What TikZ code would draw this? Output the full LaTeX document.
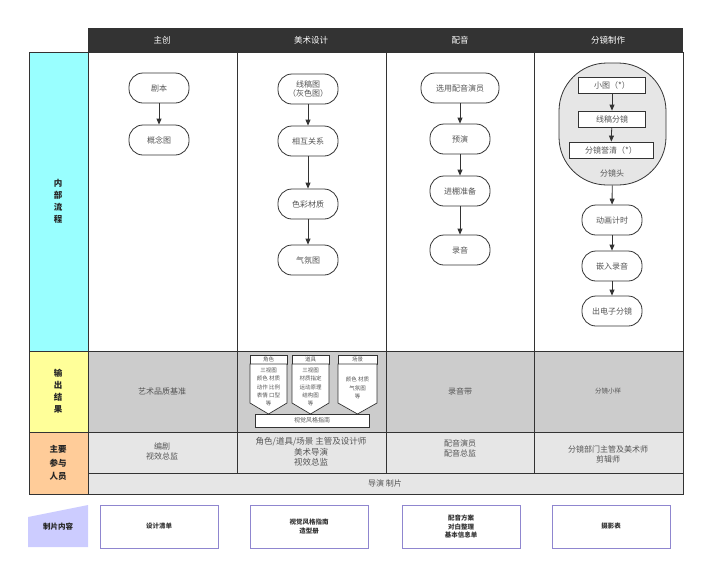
\documentclass[tikz,border=0pt]{standalone}
\usepackage{fontspec}
\setmainfont{Noto Sans CJK SC}
\usetikzlibrary{arrows.meta,shapes.geometric}
\definecolor{hdr}{HTML}{333333}
\definecolor{cyanc}{HTML}{99FFFF}
\definecolor{yelc}{HTML}{FFFF99}
\definecolor{orac}{HTML}{FFCC99}
\definecolor{grayrow}{HTML}{CCCCCC}
\definecolor{lgrow}{HTML}{E6E6E6}
\definecolor{purp}{HTML}{CCCCFF}
\definecolor{purpb}{HTML}{8F86CF}
\definecolor{txt}{HTML}{555555}
\tikzset{
  term/.style={draw=black!80, line width=0.8pt, rounded corners=14pt, minimum width=60pt, minimum height=30pt,
    font=\fontsize{8}{9.5}\selectfont, text=txt, align=center, inner sep=1pt, fill=white},
  sbox/.style={draw=black!80, line width=0.8pt, rectangle, fill=white, minimum height=16pt,
    font=\fontsize{8}{9.5}\selectfont, text=txt, inner sep=1pt},
  arr/.style={-{Triangle[length=6pt,width=5pt]}, line width=0.8pt, draw=black!80},
  grid/.style={draw=hdr, line width=0.9pt},
  lab/.style={font=\bfseries\fontsize{8.5}{12}\selectfont, text=black!85, align=center},
  cell/.style={font=\fontsize{8}{10}\selectfont, text=txt, align=center},
  tiny/.style={font=\fontsize{5.5}{8.3}\selectfont, text=txt, align=center},
  pbox/.style={draw=purpb, line width=1pt, fill=white, minimum width=118pt, minimum height=43pt,
    font=\bfseries\fontsize{6.5}{8.5}\selectfont, text=black!80, align=center},
  hd/.style={font=\fontsize{8.5}{10}\selectfont, text=white}
}
\begin{document}
\begin{tikzpicture}[x=1pt,y=-1pt]
\useasboundingbox (0,0) rectangle (720,584);
% header
\fill[hdr] (88,28) rectangle (683,52);
\node[hd] (h1) at (162,40) {主创};
\node[hd] (h2) at (311,40) {美术设计};
\node[hd] (h3) at (460,40) {配音};
\node[hd] (h4) at (608,40) {分镜制作};
% left labels
\filldraw[fill=cyanc, grid] (29,52) rectangle (88,351);
\filldraw[fill=yelc, grid] (29,351) rectangle (88,432);
\filldraw[fill=orac, grid] (29,432) rectangle (88,494);
\node[lab] (l1) at (58,201) {内\\部\\流\\程};
\node[lab] (l2) at (58,391) {输\\出\\结\\果};
\node[lab, font=\bfseries\fontsize{8.5}{13.5}\selectfont] (l3) at (58,463) {主要\\参与\\人员};
% rows
\fill[white] (88,52) rectangle (683,351);
\fill[grayrow] (88,351) rectangle (683,432);
\fill[lgrow] (88,432) rectangle (683,494);
\draw[grid] (88,52) rectangle (683,494);
\draw[grid] (88,351) -- (683,351);
\draw[grid] (88,432) -- (683,432);
\draw[grid] (88,473) -- (683,473);
\foreach \x in {237,386,534} \draw[grid] (\x,52) -- (\x,473);
% column 1
\node[term] (a1) at (159,88) {剧本};
\node[term] (a2) at (159,140) {概念图};
\draw[arr] (a1) -- (a2);
% column 2
\node[term] (b1) at (308,89) {线稿图\\（灰色图）};
\node[term] (b2) at (308,141) {相互关系};
\node[term] (b3) at (308,204) {色彩材质};
\node[term] (b4) at (308,260) {气氛图};
\draw[arr] (b1) -- (b2);
\draw[arr] (b2) -- (b3);
\draw[arr] (b3) -- (b4);
% column 3
\node[term, minimum width=78pt] (c1) at (460,88) {选用配音演员};
\node[term] (c2) at (460,139) {预演};
\node[term] (c3) at (460,191) {进棚准备};
\node[term] (c4) at (460,250) {录音};
\draw[arr] (c1) -- (c2);
\draw[arr] (c2) -- (c3);
\draw[arr] (c3) -- (c4);
% column 4
\node[rectangle, rounded corners=48pt, draw=black!80, line width=0.8pt, fill=lgrow, minimum width=107pt, minimum height=122pt] (sj) at (612.5,124) {};
\node[sbox, minimum width=67pt] (d1) at (612,85) {小图（*）};
\node[sbox, minimum width=67pt] (d2) at (612,119) {线稿分镜};
\node[sbox, minimum width=84pt] (d3) at (611,150) {分镜誉清（*）};
\node[cell] (dl) at (612,173) {分镜头};
\draw[arr] (d1) -- (d2);
\draw[arr] (d2) -- (d3);
\node[term] (e1) at (612,220) {动画计时};
\node[term] (e2) at (612,266) {嵌入录音};
\node[term] (e3) at (612,311) {出电子分镜};
\draw[arr] (sj) -- (e1);
\draw[arr] (e1) -- (e2);
\draw[arr] (e2) -- (e3);
% output row
\node[cell] (o1) at (162,391) {艺术品质基准};
\foreach \xa/\xb/\nm in {250/287/角色, 292/329/道具, 338/377/场景}{
  \filldraw[fill=white, draw=black!80, line width=0.7pt] (\xa,355) rectangle (\xb,364);
  \node[tiny] at ({(\xa+\xb)/2},359.5) {\nm};
  \filldraw[fill=white, draw=black!80, line width=0.7pt] (\xa,364) -- (\xb,364) -- (\xb,403) -- ({(\xa+\xb)/2},414) -- (\xa,403) -- cycle;
}
\node[tiny] (ot1) at (268.5,387) {三视图\\颜色 材质\\动作 比例\\表情 口型\\等};
\node[tiny] (ot2) at (310.5,387) {三视图\\材质指定\\运动原理\\结构图\\等};
\node[tiny] (ot3) at (357.5,388) {颜色 材质\\气氛图\\等};
\node[draw=black!80, line width=0.7pt, fill=white, minimum width=114pt, minimum height=13pt, inner sep=0pt, tiny, font=\fontsize{6}{8}\selectfont] (vg) at (312,420.5) {视觉风格指南};
\node[cell] (o3) at (460,391) {录音带};
\node[cell, font=\fontsize{6.5}{8}\selectfont] (o4) at (608,391) {分镜小样};
% participants
\node[cell] (p1) at (162,451) {编剧\\视效总监};
\node[cell, font=\fontsize{8.5}{10.5}\selectfont] (p2) at (311,452) {角色/道具/场景 主管及设计师\\美术导演\\视效总监};
\node[cell] (p3) at (460,448) {配音演员\\配音总监};
\node[cell] (p4) at (608,454) {分镜部门主管及美术师\\剪辑师};
\node[cell] (p5) at (385,483.5) {导演 制片};
% bottom
\fill[purp] (28,517) -- (88,505) -- (88,547) -- (28,547) -- cycle;
\node[lab, font=\bfseries\fontsize{7.5}{9}\selectfont] (z0) at (58,527) {制片内容};
\node[pbox] (z1) at (159,526.5) {设计清单};
\node[pbox] (z2) at (309,526.5) {视觉风格指南\\造型册};
\node[pbox] (z3) at (461,526.5) {配音方案\\对白整理\\基本信息单};
\node[pbox] (z4) at (611,526.5) {摄影表};
\end{tikzpicture}
\end{document}
